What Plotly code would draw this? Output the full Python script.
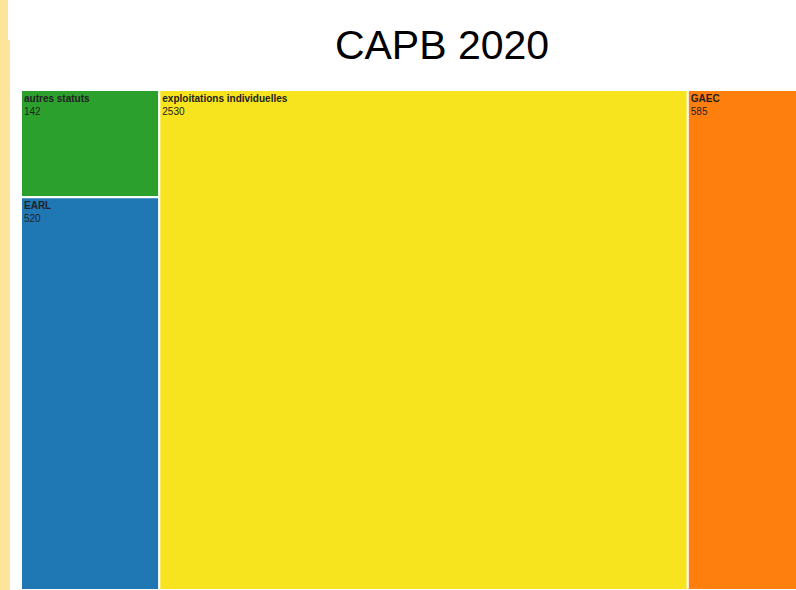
import plotly.graph_objects as go

labels = ["autres statuts", "EARL", "exploitations individuelles", "GAEC"]
parents = ["", "", "", ""]
values = [142, 520, 2530, 585]
colors = ["#2ca02c", "#1f77b4", "#f7e41e", "#ff7f0e"]
title_text = "CAPB 2020"

# the original chart is cropped on its right side; draw it slightly wider than the window
W, H = 810, 590

fig = go.Figure(go.Treemap(
    labels=labels,
    parents=parents,
    values=values,
    sort=False,
    marker=dict(colors=colors, line=dict(width=2, color="white"),
                pad=dict(t=0, l=0, r=0, b=0)),
    texttemplate="<b>%{label}</b><br>%{value}",
    textposition="top left",
    textfont=dict(family="Liberation Sans, Arial, sans-serif", size=10, color="#222222"),
    pathbar=dict(visible=False),
    tiling=dict(packing="squarify", pad=0),
    domain=dict(x=[21 / W, 1], y=[0, 1 - 90 / H]),
))

fig.update_layout(
    width=W, height=H,
    margin=dict(l=0, r=0, t=0, b=0),
    paper_bgcolor="white",
    title=dict(
        text=title_text,
        x=442 / W, xanchor="center", xref="paper",
        y=1 - 45 / H, yanchor="middle", yref="container",
        font=dict(family="Liberation Sans, Arial, sans-serif", size=41, color="black"),
    ),
    shapes=[
        dict(type="rect", xref="paper", yref="paper", x0=0, x1=8 / W, y0=1 - 40 / H, y1=1,
             fillcolor="#fde49b", line=dict(width=0), layer="below"),
        dict(type="rect", xref="paper", yref="paper", x0=0, x1=10 / W, y0=0, y1=1 - 40 / H,
             fillcolor="#fde49b", line=dict(width=0), layer="below"),
    ],
)

fig.write_html(
    "out.html",
    config={"displayModeBar": False},
    post_script="document.body.style.margin='0';document.body.style.overflow='hidden';",
)
